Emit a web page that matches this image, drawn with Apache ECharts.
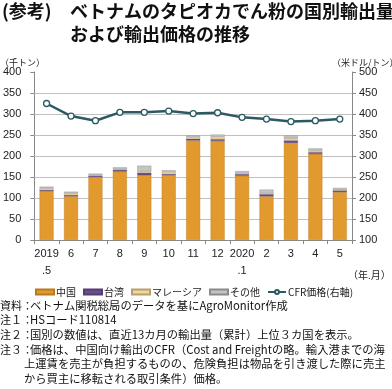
<!DOCTYPE html>
<html><head><meta charset="utf-8">
<script src="https://cdn.jsdelivr.net/npm/echarts@6/dist/echarts.min.js"></script>
<style>html,body{margin:0;padding:0;background:#fff}#c{width:392px;height:389px}</style>
</head><body><div id="c"></div>
<script>
const categories = ['2019\n.5','6','7','8','9','10','11','12','2020\n.1','2','3','4','5'];
const china    = [116,104,150,163,154,154,237,236,153,104,231,205,114];
const taiwan   = [3,3,3,4,6,3,4,4,4,5,6,4,4];
const malaysia = [4,4,2,2,3,5,4,6,3,3,5,4,2];
const others   = [4,4,3,4,14,4,4,5,4,8,7,5,4];
const cfr      = [425,395,384,404,404,407,401,403,392,388,382,384,388];
const leftTicks = [0,400,50];
const rightTicks = [100,500,50];
const gridValues = [50,100,150,200,250,300,350];

const F = '"Noto Sans CJK JP","Noto Sans",sans-serif';
const N = '"Liberation Sans",Arial,sans-serif';
const chart = echarts.init(document.getElementById('c'), null, {renderer:'canvas'});
const barBase = {type:'bar', stack:'v', barWidth:14, yAxisIndex:0};
const notes = [
  ['資料：','ベトナム関税総局のデータを基にAgroMonitor作成', 308, 30],
  ['注１：','HSコード110814', 322.5, 30],
  ['注２：','国別の数値は、直近13カ月の輸出量（累計）上位３カ国を表示。', 337, 30],
  ['注３：','価格は、中国向け輸出のCFR（Cost and Freightの略。輸入港までの海', 352, 30],
  ['','上運賃を売主が負担するものの、危険負担は物品を引き渡した際に売主', 366.5, 24],
  ['','から買主に移転される取引条件）価格。', 381, 24]
];
const graphics = [
  {type:'text', left:2, top:2, style:{text:'(参考)', font:'bold 18px '+F, fill:'#111'}},
  {type:'text', left:70, top:2, style:{text:'ベトナムのタピオカでん粉の国別輸出量', font:'bold 18px '+F, fill:'#111'}},
  {type:'text', left:70, top:25, style:{text:'および輸出価格の推移', font:'bold 18px '+F, fill:'#111'}},
  {type:'text', left:0, top:58, style:{text:'（千トン）', font:'9px '+F, fill:'#222'}},
  {type:'text', left:332, top:58, style:{text:'（米ドル/トン）', font:'9px '+F, fill:'#222'}},
  {type:'text', left:348, top:270, style:{text:'（年.月）', font:'10px '+F, fill:'#222'}}
];
notes.forEach(n=>{
  if(n[0]) graphics.push({type:'text', left:0, top:n[2]-8, style:{text:n[0], font:'11px '+F, fill:'#111'}});
  graphics.push({type:'text', left:n[3], top:n[2]-8, style:{text:n[1], font:'11.3px '+F, fill:'#111'}});
});
chart.setOption({
  animation:false,
  textStyle:{fontFamily:F},
  grid:{left:34, right:40, top:72, bottom:149, containLabel:false},
  legend:{left:30, top:282, itemWidth:18, itemHeight:5, itemGap:7,
    textStyle:{fontSize:10, color:'#222', fontFamily:F, padding:[0,0,0,-3]},
    data:[{name:'中国',icon:'rect'},{name:'台湾',icon:'rect'},{name:'マレーシア',icon:'rect'},{name:'その他',icon:'rect'},{name:'CFR価格(右軸)'}]},
  xAxis:{type:'category', data:categories,
    axisLine:{lineStyle:{color:'#888', width:1}},
    axisTick:{show:true, length:4, lineStyle:{color:'#888'}},
    axisLabel:{interval:0, fontSize:11, color:'#222', margin:5, lineHeight:17, fontFamily:N}},
  yAxis:[
    {type:'value', min:leftTicks[0], max:leftTicks[1], interval:leftTicks[2],
      axisLine:{show:true, lineStyle:{color:'#888'}},
      axisTick:{show:true, length:4, lineStyle:{color:'#888'}},
      axisLabel:{fontSize:11, color:'#222', margin:13, fontFamily:N},
      splitLine:{show:false}},
    {type:'value', min:rightTicks[0], max:rightTicks[1], interval:rightTicks[2], position:'right',
      axisLine:{show:true, lineStyle:{color:'#888'}},
      axisTick:{show:true, length:4, lineStyle:{color:'#888'}},
      axisLabel:{fontSize:11, color:'#222', margin:7, fontFamily:N},
      splitLine:{show:false}}
  ],
  series:[
    Object.assign({}, barBase, {name:'中国', data:china, z:2, itemStyle:{color:'#E29A2E', borderColor:'#b8791f', borderWidth:0.4},
      markLine:{silent:true, symbol:'none', label:{show:false}, z:1,
        lineStyle:{color:'#c0c0c0', type:'solid', width:1},
        data:gridValues.map(v=>({yAxis:v}))}}),
    Object.assign({}, barBase, {name:'台湾', data:taiwan, itemStyle:{color:'#6A4F8E', borderColor:'#553d72', borderWidth:0.4}}),
    Object.assign({}, barBase, {name:'マレーシア', data:malaysia, itemStyle:{color:'#F2D79A', borderColor:'#b5a070', borderWidth:0.4}}),
    Object.assign({}, barBase, {name:'その他', data:others, itemStyle:{color:'#C4C4C4', borderColor:'#8a8a8a', borderWidth:0.4}}),
    {type:'line', name:'CFR価格(右軸)', yAxisIndex:1, data:cfr, symbol:'circle', symbolSize:6, z:5,
      lineStyle:{color:'#2B5A63', width:2.5}, itemStyle:{color:'#fff', borderColor:'#2B5A63', borderWidth:1.3}}
  ],
  graphic: graphics
});
</script></body></html>
